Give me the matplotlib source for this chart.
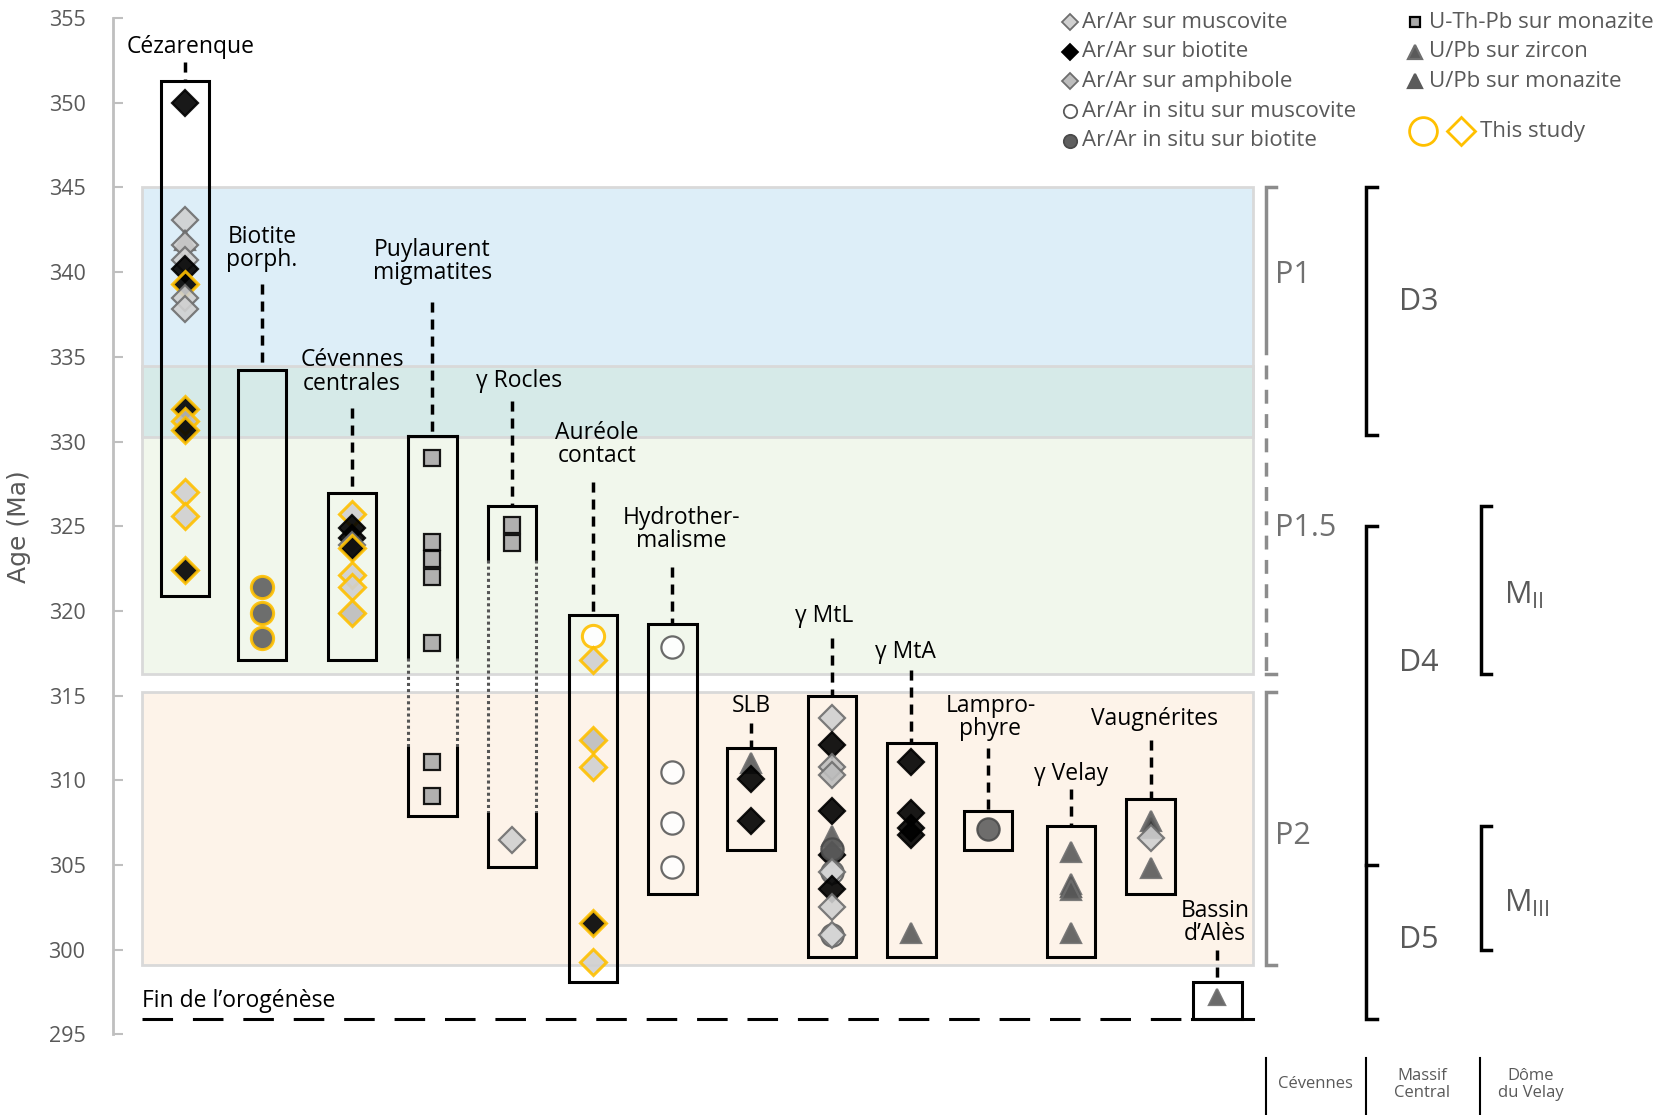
"""
Synthèse géochronologique Cévennes / Massif Central / Dôme du Velay.
"""
import matplotlib
import matplotlib.pyplot as plt
from matplotlib.patches import Rectangle

matplotlib.use('Agg')

plt.rcParams['font.family'] = ['Open Sans', 'DejaVu Sans']

# --- Données -----------------------------------------------------------
colonnes = ['Cézarenque', 'Biotite\nporph.', 'Cévennes\ncentrales',
            'Puylaurent\nmigmatites', 'γ Rocles', 'Auréole\ncontact',
            'Hydrother-\nmalisme', 'SLB', 'γ MtL', 'γ MtA', 'Lampro-\nphyre',
            'γ Velay', 'Vaugnérites', 'Bassin\nd’Alès']
col_x = [0, 0.95, 2.07, 3.07, 4.06, 5.06, 6.05, 7.03, 8.03, 9.02, 9.97,
         11.0, 11.99, 12.82]
boite_haut = [351.25, 334.25, 326.95, 330.3, 326.2, 319.75, 319.25,
              311.9, 315.0, 312.2, 308.2, 307.3, 308.9, 298.1]
boite_bas = [320.9, 317.1, 317.1, 307.9, 304.9, 298.1, 303.3,
             305.9, 299.6, 299.6, 305.9, 299.6, 303.3, 295.9]

# (âge, type, cette étude)
ages = [
    # Cézarenque
    [(350.0, 'bio', 0), (343.1, 'musc', 0), (341.9, 'zrn', 0), (341.6, 'musc', 0),
     (340.7, 'musc', 0), (340.2, 'bio', 0), (339.3, 'bio', 1), (338.5, 'musc', 0),
     (337.8, 'musc', 0), (331.9, 'bio', 1), (331.2, 'amph', 1), (330.7, 'bio', 1),
     (327.0, 'musc', 1), (325.6, 'musc', 1), (322.4, 'bio', 1)],
    # Biotite porph.
    [(321.4, 'is_bio', 1), (319.9, 'is_bio', 1), (318.4, 'is_bio', 1)],
    # Cévennes centrales
    [(325.75, 'musc', 1), (324.9, 'bio', 0), (324.3, 'bio', 0), (323.9, 'amph', 0),
     (323.7, 'bio', 1), (322.1, 'musc', 1), (321.4, 'musc', 1), (319.9, 'amph', 1)],
    # Puylaurent migmatites
    [(329.0, 'mnz_th', 0), (324.06, 'mnz_th', 0), (323.06, 'mnz_th', 0),
     (322.0, 'mnz_th', 0), (318.1, 'mnz_th', 0), (311.1, 'mnz_th', 0),
     (309.1, 'mnz_th', 0)],
    # γ Rocles
    [(325.06, 'mnz_th', 0), (324.0, 'mnz_th', 0), (306.5, 'musc', 0)],
    # Auréole contact
    [(318.5, 'is_musc', 1), (317.1, 'musc', 1), (312.4, 'amph', 1),
     (310.8, 'musc', 1), (301.6, 'bio', 1), (299.3, 'musc', 1)],
    # Hydrothermalisme
    [(317.9, 'is_musc', 0), (310.5, 'is_musc', 0), (307.5, 'is_musc', 0),
     (304.9, 'is_musc', 0)],
    # SLB
    [(311.0, 'zrn', 0), (310.1, 'bio', 0), (307.6, 'bio', 0)],
    # γ MtL
    [(313.7, 'musc', 0), (312.1, 'bio', 0), (310.8, 'amph', 0), (310.3, 'amph', 0),
     (308.2, 'bio', 0), (306.7, 'zrn', 0), (305.6, 'bio', 0), (305.95, 'is_bio', 0),
     (304.6, 'is_musc', 0), (304.6, 'musc', 0), (303.6, 'bio', 0),
     (302.55, 'musc', 0), (300.9, 'is_musc', 0), (300.9, 'musc', 0)],
    # γ MtA
    [(311.1, 'bio', 0), (308.1, 'bio', 0), (307.2, 'bio', 0), (306.8, 'bio', 0),
     (301.0, 'zrn', 0)],
    # Lamprophyre
    [(307.1, 'is_bio', 0)],
    # γ Velay
    [(305.8, 'zrn', 0), (303.9, 'zrn', 0), (303.7, 'mnz', 0), (303.5, 'zrn', 0),
     (301.0, 'zrn', 0)],
    # Vaugnérites
    [(307.6, 'zrn', 0), (307.2, 'mnz', 0), (306.6, 'musc', 0), (304.8, 'zrn', 0)],
    # Bassin d'Alès
    [(297.2, 'zrn', 0)],
]

# Phases (bandes colorées) et événements
p1 = (345.0, 330.25)
p15 = (334.45, 316.3)
p2 = (315.2, 299.1)
fin_orogenese = 295.9
d3 = (345.0, 330.4)
d45 = (325.0, 295.9)
d_limite = 305.0
m2 = (326.2, 316.25)
m3 = (307.3, 300.0)

# --- Mise en page ------------------------------------------------------
label_y = [353.3, 341.4, 334.1, 340.6, 333.6, 329.8, 324.8, 314.4, 319.7,
           317.6, 313.7, 310.4, 313.6, 301.6]
label_dx = [0.06, 0, 0, 0, 0.085, 0.05, 0.11, 0, -0.1, -0.07, 0.03, 0, 0.05, -0.03]
tiret_haut = [352.4, 339.3, 332.0, 338.25, 332.4, 327.6, 322.6, 313.4, 318.4,
              316.5, 311.9, 309.5, 312.4, 300.0]

STYLES = {
    'musc': dict(marker='D', mfc='#D0D0D0', mec='#6E6E6E', ms=13),
    'amph': dict(marker='D', mfc='#BDBDBD', mec='#6E6E6E', ms=13),
    'bio': dict(marker='D', mfc='black', mec='black', ms=13),
    'is_musc': dict(marker='o', mfc='white', mec='#5A5A5A', ms=16),
    'is_bio': dict(marker='o', mfc='#5F5F5F', mec='#4A4A4A', ms=16),
    'mnz_th': dict(marker='s', mfc='#A9A9A9', mec='black', ms=12),
    'zrn': dict(marker='^', mfc='#5A5A5A', mec='#6E6E6E', ms=15),
    'mnz': dict(marker='^', mfc='#3A3A3A', mec='#5A5A5A', ms=15),
}
ORANGE = '#FFC000'
GRIS_TXT = '#595959'
GRIS_P = '#8C8C8C'

fig = plt.figure(figsize=(16.61, 11.15), dpi=100)
ax = fig.add_axes([0.0682, 0.0722, 0.9318, 0.9117])
ax.set_xlim(-0.895, 18.33)
ax.set_ylim(295, 355)

# bandes
x0, x1 = -0.54, 13.26
ax.add_patch(Rectangle((x0, p1[1]), x1 - x0, p1[0] - p1[1], fc='#DDEEF8', ec='none', zorder=0))
ax.add_patch(Rectangle((x0, p15[1]), x1 - x0, p15[0] - p15[1], fc='#F1F7EC', ec='none', zorder=0))
ax.add_patch(Rectangle((x0, p1[1]), x1 - x0, p15[0] - p1[1], fc='#D6EAE8', ec='none', zorder=0))
ax.add_patch(Rectangle((x0, p2[1]), x1 - x0, p2[0] - p2[1], fc='#FDF3E9', ec='none', zorder=0))
for lo, hi in (p1, p15, p2):
    ax.add_patch(Rectangle((x0, hi), x1 - x0, lo - hi, fc='none', ec='#D9D9D9', lw=2, zorder=0.5))

# ligne fin de l'orogénèse
ax.plot([x0, 12.5], [fin_orogenese] * 2, color='black', lw=2.2,
        linestyle=(0, (10, 6.5)), zorder=1)
ax.plot([12.5, x1], [fin_orogenese] * 2, color='black', lw=2.2, zorder=1)
ax.text(x0, 296.95, 'Fin de l’orogénèse', fontsize=16.5, ha='left', va='center')

# boîtes, étiquettes et points
hw = 0.3
pointilles = {3: (317.2, 311.9), 4: (323.0, 308.0)}
for i, nom in enumerate(colonnes):
    x = col_x[i]
    haut, bas = boite_haut[i], boite_bas[i]
    if i in pointilles:  # côtés en pointillés au milieu
        ya, yb = pointilles[i]
        for xs in (x - hw, x + hw):
            ax.plot([xs, xs], [haut, ya], color='black', lw=2.2, zorder=2)
            ax.plot([xs, xs], [ya, yb], color='#555555', lw=2.2, ls=(0, (1, 1)), zorder=2)
            ax.plot([xs, xs], [yb, bas], color='black', lw=2.2, zorder=2)
        ax.plot([x - hw, x + hw], [haut, haut], color='black', lw=2.2, zorder=2)
        ax.plot([x - hw, x + hw], [bas, bas], color='black', lw=2.2, zorder=2)
    else:
        ax.add_patch(Rectangle((x - hw, bas), 2 * hw, haut - bas, fc='none',
                               ec='black', lw=2.2, zorder=2))
    ax.plot([x, x], [tiret_haut[i], haut], color='black', lw=2.5,
            linestyle=(0, (2.9, 2.0)), zorder=2)
    ax.text(x + label_dx[i], label_y[i], nom, fontsize=16.5, ha='center', va='center',
            linespacing=0.95)
    for age, typ, nouveau in ages[i]:
        st = dict(STYLES[typ])
        if nouveau:
            st['mec'] = ORANGE
        if i == 13:
            st['ms'] = 11
        ax.plot(x, age, ls='none', mew=2.2 if nouveau else 1.6, alpha=0.9,
                zorder=3, **st)


# accolades P, D, M
def accolade(x, lo, hi, couleur, lw=2.5, dl=0.13):
    ax.plot([x + dl, x, x, x + dl], [hi, hi, lo, lo], color=couleur, lw=lw,
            clip_on=False, solid_joinstyle='miter')


xp, xd, xm = 13.42, 14.67, 16.09
ax.plot([xp + 0.13, xp, xp], [p1[0], p1[0], 335.2], color=GRIS_P, lw=2.5,
        solid_joinstyle='miter')
ax.plot([xp, xp], [334.5, p15[1]], color=GRIS_P, lw=2.5, ls=(0, (4, 3)))
ax.plot([xp, xp + 0.13], [p15[1], p15[1]], color=GRIS_P, lw=2.5)
accolade(xp, p2[1], p2[0], GRIS_P)
accolade(xd, d3[1], d3[0], 'black')
accolade(xd, d45[1], d45[0], 'black')
ax.plot([xd, xd + 0.13], [d_limite, d_limite], color='black', lw=2.5)
accolade(xm, m2[1], m2[0], 'black')
accolade(xm, m3[1], m3[0], 'black')

for txt, y in (('P1', 339.8), ('P1.5', 324.9), ('P2', 306.7)):
    ax.text(13.53, y, txt, fontsize=22, color='#707070', ha='left', va='center')
for txt, y in (('D3', 338.25), ('D4', 316.9), ('D5', 300.6)):
    ax.text(15.07, y, txt, fontsize=22, color=GRIS_TXT, ha='left', va='center')
ax.text(16.38, 320.9, r'M$_{\mathregular{II}}$', fontsize=22, color=GRIS_TXT,
        ha='left', va='center')
ax.text(16.38, 302.75, r'M$_{\mathregular{III}}$', fontsize=22, color=GRIS_TXT,
        ha='left', va='center')

# régions (sous l'axe)
for xs in (xp, xd, 16.08):
    ax.plot([xs, xs], [293.6, 290.25], color='black', lw=1.5, clip_on=False)
for txt, xc in (('Cévennes', 14.04), ('Massif\nCentral', 15.36), ('Dôme\ndu Velay', 16.71)):
    ax.text(xc, 292.05, txt, fontsize=12, color=GRIS_TXT, ha='center', va='center',
            linespacing=1.1, clip_on=False)

# légende
leg1 = [('musc', 'Ar/Ar sur muscovite'), ('bio', 'Ar/Ar sur biotite'),
        ('amph', 'Ar/Ar sur amphibole'), ('is_musc', 'Ar/Ar in situ sur muscovite'),
        ('is_bio', 'Ar/Ar in situ sur biotite')]
leg2 = [('mnz_th', 'U-Th-Pb sur monazite'), ('zrn', 'U/Pb sur zircon'),
        ('mnz', 'U/Pb sur monazite')]
leg_y = [354.75, 353.0, 351.25, 349.5, 347.75]
for (typ, txt), y in zip(leg1, leg_y):
    st = dict(STYLES[typ])
    st['ms'] = st['ms'] * 0.6
    ax.plot(10.99, y, ls='none', mew=1.3, clip_on=False, **st)
    ax.text(11.14, y, txt, fontsize=16, color=GRIS_TXT, ha='left', va='center')
for (typ, txt), y in zip(leg2, leg_y):
    st = dict(STYLES[typ])
    st['ms'] = st['ms'] * 0.65
    if typ == 'mnz':
        st['mfc'] = '#5A5A5A'
    ax.plot(15.28, y, ls='none', mew=1.6, clip_on=False, **st)
    ax.text(15.45, y, txt, fontsize=16, color=GRIS_TXT, ha='left', va='center')
ax.plot(15.37, 348.3, marker='o', ms=20, mfc='none', mec=ORANGE, mew=2, ls='none')
ax.plot(15.84, 348.3, marker='D', ms=14, mfc='none', mec=ORANGE, mew=2, ls='none')
ax.text(16.08, 348.3, 'This study', fontsize=16, color=GRIS_TXT, ha='left', va='center')

# axe
for s in ('top', 'right', 'bottom'):
    ax.spines[s].set_visible(False)
ax.spines['left'].set_color('#BFBFBF')
ax.spines['left'].set_linewidth(2)
ax.set_xticks([])
ax.set_yticks(range(295, 356, 5))
ax.tick_params(axis='y', direction='in', length=7, width=1.5, color='#BFBFBF',
               labelcolor=GRIS_TXT, labelsize=15.5, pad=20)
ax.set_ylabel('Age (Ma)', fontsize=18, color=GRIS_TXT,
              family=['Liberation Sans Narrow', 'DejaVu Sans'], labelpad=22)
ax.yaxis.set_label_coords(-0.053, 0.5)

fig.savefig('out.png', dpi=100)
